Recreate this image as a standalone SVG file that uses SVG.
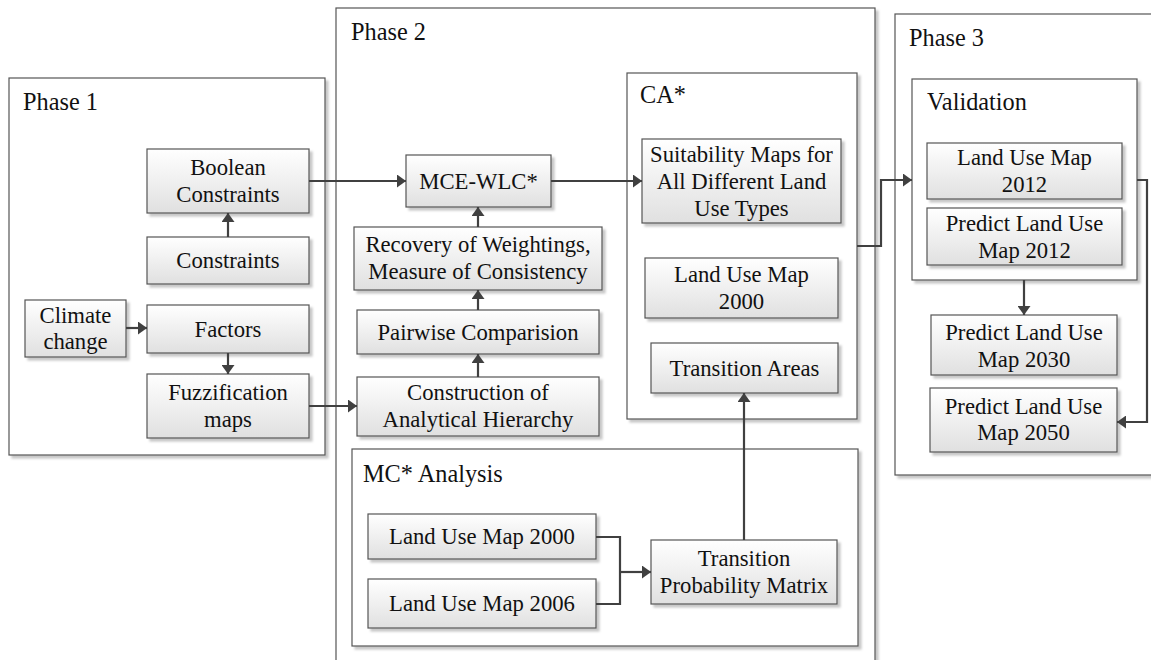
<svg xmlns="http://www.w3.org/2000/svg" width="1151" height="660" viewBox="0 0 1151 660">
  <defs>
    <linearGradient id="boxFill" x1="0" y1="0" x2="0" y2="1">
      <stop offset="0" stop-color="#ffffff"/>
      <stop offset="1" stop-color="#e0e0e0"/>
    </linearGradient>
    <filter id="shadow" x="-5%" y="-5%" width="115%" height="120%">
      <feDropShadow dx="3" dy="3" stdDeviation="1" flood-color="#000" flood-opacity="0.22"/>
    </filter>
    <marker id="arrow" viewBox="0 0 9 13" refX="9" refY="6.5" markerWidth="9" markerHeight="13" markerUnits="userSpaceOnUse" orient="auto">
      <path d="M0,0 L9,6.5 L0,13 z" fill="#404040"/>
    </marker>
  </defs>
  <style>
    .panel { fill: #ffffff; stroke: #555555; stroke-width: 1.2; filter: url(#shadow); }
    .box { fill: url(#boxFill); stroke: #555555; stroke-width: 1.2; filter: url(#shadow); }
    text { font-family: 'Liberation Serif', 'DejaVu Serif', serif; fill: #111111; }
    .title { font-size: 24.3px; }
    .label { font-size: 22.7px; text-anchor: middle; }
    .link { fill: none; stroke: #404040; stroke-width: 2.2; }
    .arrow { marker-end: url(#arrow); }
  </style>

  <rect width="1151" height="660" fill="#ffffff"/>

  <!-- Phase containers -->
  <g id="phase1">
    <rect class="panel" x="9" y="78" width="316" height="377"/>
    <text class="title" x="23" y="110">Phase 1</text>
  </g>
  <g id="phase2">
    <rect class="panel" x="336" y="8" width="539" height="700"/>
    <text class="title" x="351" y="40">Phase 2</text>
  </g>
  <g id="phase3">
    <rect class="panel" x="895" y="14" width="280" height="461"/>
    <text class="title" x="909" y="46">Phase 3</text>
  </g>

  <!-- Sub-panels -->
  <g id="ca">
    <rect class="panel" x="627" y="73" width="230" height="346"/>
    <text class="title" x="640" y="103">CA*</text>
  </g>
  <g id="mc-analysis">
    <rect class="panel" x="352" y="449" width="506" height="197"/>
    <text class="title" x="363" y="482">MC* Analysis</text>
  </g>
  <g id="validation">
    <rect class="panel" x="912" y="79" width="225" height="201"/>
    <text class="title" x="927" y="110">Validation</text>
  </g>

  <!-- Phase 1 nodes -->
  <g id="boolean-constraints">
    <rect class="box" x="147" y="149" width="162" height="64"/>
    <text class="label" x="228" y="175">Boolean</text>
    <text class="label" x="228" y="202">Constraints</text>
  </g>
  <g id="constraints">
    <rect class="box" x="147" y="237" width="162" height="47"/>
    <text class="label" x="228" y="268">Constraints</text>
  </g>
  <g id="climate-change">
    <rect class="box" x="25" y="300" width="101" height="57"/>
    <text class="label" x="75.5" y="323">Climate</text>
    <text class="label" x="75.5" y="349">change</text>
  </g>
  <g id="factors">
    <rect class="box" x="147" y="305" width="162" height="48"/>
    <text class="label" x="228" y="337">Factors</text>
  </g>
  <g id="fuzzification-maps">
    <rect class="box" x="147" y="374" width="162" height="64"/>
    <text class="label" x="228" y="400">Fuzzification</text>
    <text class="label" x="228" y="427">maps</text>
  </g>

  <!-- Phase 2 nodes -->
  <g id="mce-wlc">
    <rect class="box" x="406" y="155" width="145" height="52"/>
    <text class="label" x="478.5" y="189">MCE-WLC*</text>
  </g>
  <g id="recovery">
    <rect class="box" x="354" y="227" width="248" height="63"/>
    <text class="label" x="478" y="252">Recovery of Weightings,</text>
    <text class="label" x="478" y="279">Measure of Consistency</text>
  </g>
  <g id="pairwise">
    <rect class="box" x="357" y="310" width="242" height="44"/>
    <text class="label" x="478" y="340">Pairwise Comparision</text>
  </g>
  <g id="construction">
    <rect class="box" x="357" y="377" width="242" height="59"/>
    <text class="label" x="478" y="400">Construction of</text>
    <text class="label" x="478" y="427">Analytical Hierarchy</text>
  </g>

  <!-- CA nodes -->
  <g id="suitability-maps">
    <rect class="box" x="642" y="139" width="199" height="84"/>
    <text class="label" x="741.5" y="162">Suitability Maps for</text>
    <text class="label" x="741.5" y="189">All Different Land</text>
    <text class="label" x="741.5" y="216">Use Types</text>
  </g>
  <g id="ca-land-use-2000">
    <rect class="box" x="645" y="258" width="193" height="60"/>
    <text class="label" x="741.5" y="282">Land Use Map</text>
    <text class="label" x="741.5" y="309">2000</text>
  </g>
  <g id="transition-areas">
    <rect class="box" x="651" y="343" width="187" height="50"/>
    <text class="label" x="744.5" y="376">Transition Areas</text>
  </g>

  <!-- MC analysis nodes -->
  <g id="land-use-2000">
    <rect class="box" x="368" y="514" width="228" height="45"/>
    <text class="label" x="482" y="544">Land Use Map 2000</text>
  </g>
  <g id="land-use-2006">
    <rect class="box" x="368" y="579" width="228" height="49"/>
    <text class="label" x="482" y="611">Land Use Map 2006</text>
  </g>
  <g id="transition-matrix">
    <rect class="box" x="651" y="540" width="186" height="64"/>
    <text class="label" x="744" y="566">Transition</text>
    <text class="label" x="744" y="593">Probability Matrix</text>
  </g>

  <!-- Phase 3 nodes -->
  <g id="land-use-2012">
    <rect class="box" x="927" y="143" width="195" height="56"/>
    <text class="label" x="1024.5" y="165">Land Use Map</text>
    <text class="label" x="1024.5" y="192">2012</text>
  </g>
  <g id="predict-2012">
    <rect class="box" x="927" y="208" width="195" height="57"/>
    <text class="label" x="1024.5" y="231">Predict Land Use</text>
    <text class="label" x="1024.5" y="258">Map 2012</text>
  </g>
  <g id="predict-2030">
    <rect class="box" x="931" y="315" width="186" height="60"/>
    <text class="label" x="1024" y="340">Predict Land Use</text>
    <text class="label" x="1024" y="367">Map 2030</text>
  </g>
  <g id="predict-2050">
    <rect class="box" x="930" y="388" width="187" height="64"/>
    <text class="label" x="1023.5" y="414">Predict Land Use</text>
    <text class="label" x="1023.5" y="440">Map 2050</text>
  </g>

  <!-- Connectors -->
  <g id="connectors">
    <path class="link arrow" d="M309,181 H406"/>
    <path class="link arrow" d="M309,406 H357"/>
    <path class="link arrow" d="M126,328 H147"/>
    <path class="link arrow" d="M228,237 V213"/>
    <path class="link arrow" d="M228,353 V374"/>
    <path class="link arrow" d="M478,377 V354"/>
    <path class="link arrow" d="M478,310 V290"/>
    <path class="link arrow" d="M478,227 V207"/>
    <path class="link arrow" d="M551,181 H642"/>
    <path class="link arrow" d="M857,246 H881 V180 H912"/>
    <path class="link arrow" d="M744,540 V393"/>
    <path class="link" d="M596,537 H620 V604 H596"/>
    <path class="link arrow" d="M620,572 H651"/>
    <path class="link arrow" d="M1024,280 V315"/>
    <path class="link arrow" d="M1137,180 H1147 V422 H1117"/>
  </g>
</svg>
